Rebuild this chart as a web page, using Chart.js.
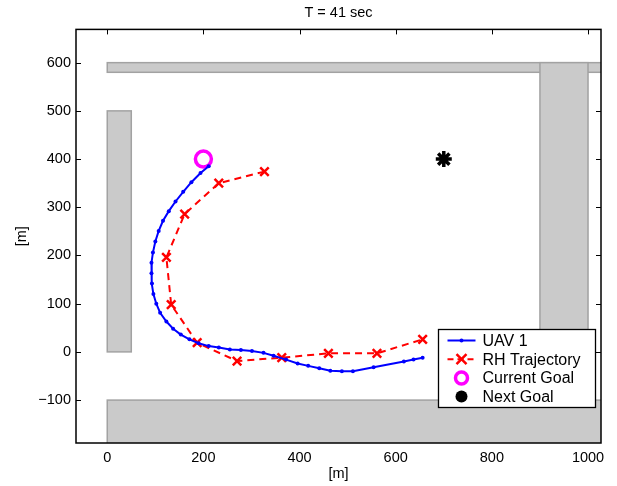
<!DOCTYPE html>
<html>
<head>
<meta charset="UTF-8">
<title>T = 41 sec</title>
<script src="https://cdn.jsdelivr.net/npm/chart.js"></script>
<style>
  body { margin: 0; padding: 0; background: #fff; }
  #wrap { width: 617px; height: 486px; }
</style>
</head>
<body>
<div id="wrap"><canvas id="c" width="617" height="486"></canvas></div>
<script>
// UAV 1 path (flown so far)
const uavX = [211, 194, 175, 158, 142, 128, 116, 107, 100, 95, 92, 92, 93, 96, 102, 110, 123, 137, 153, 171, 190, 211, 232, 255, 278, 301, 325, 346, 372, 396, 418, 441, 464, 488, 511, 554, 617, 637, 656];
const uavY = [385, 371, 352, 332, 312, 292, 272, 251, 229, 206, 185, 163, 142, 120, 100, 81, 63, 48, 36, 26, 18, 12, 9, 5, 4, 2, -2, -8, -16, -24, -29, -34, -39, -40, -40, -32, -20, -16, -12];

// receding horizon plan
const rhX = [327, 232, 161, 123, 133, 187, 270, 363, 460, 561, 656];
const rhY = [374, 350, 286, 196, 98, 19, -19, -12, -3, -3, 26];

const currentGoal = [200, 400];
const nextGoal = [700, 400];

// obstacles: x0, x1, y0, y1
const obsX0 = [0, 0, 900, 0];
const obsX1 = [1100, 50, 1000, 1100];
const obsY0 = [580, 0, 0, -300];
const obsY1 = [600, 500, 600, -100];

const xTicks = [0, 200, 400, 600, 800, 1000];
const yTicks = [-100, 0, 100, 200, 300, 400, 500, 600];

const FONT = "'Liberation Sans', Arial, Helvetica, sans-serif";

// inward ticks on all four sides, then the grey obstacles
const obstaclePlugin = {
  id: 'obstacles',
  beforeDatasetsDraw(chart) {
    const {ctx, chartArea: a, scales: {x, y}} = chart;
    ctx.save();
    ctx.strokeStyle = '#000';
    ctx.lineWidth = 1;
    xTicks.forEach(v => {
      const px = Math.round(x.getPixelForValue(v)) + 0.5;
      ctx.beginPath();
      ctx.moveTo(px, a.top); ctx.lineTo(px, a.top + 5);
      ctx.moveTo(px, a.bottom); ctx.lineTo(px, a.bottom - 5);
      ctx.stroke();
    });
    yTicks.forEach(v => {
      const py = Math.round(y.getPixelForValue(v)) + 0.5;
      ctx.beginPath();
      ctx.moveTo(a.left, py); ctx.lineTo(a.left + 5, py);
      ctx.moveTo(a.right, py); ctx.lineTo(a.right - 5, py);
      ctx.stroke();
    });

    ctx.beginPath();
    ctx.rect(a.left, a.top, a.right - a.left, a.bottom - a.top);
    ctx.clip();
    for (let i = 0; i < obsX0.length; i++) {
      const l = x.getPixelForValue(obsX0[i]);
      const r = x.getPixelForValue(obsX1[i]);
      const t = y.getPixelForValue(obsY1[i]);
      const b = y.getPixelForValue(obsY0[i]);
      ctx.fillStyle = '#cacaca';
      ctx.strokeStyle = '#a2a2a2';
      ctx.lineWidth = 1.5;
      ctx.fillRect(l, t, r - l, b - t);
      ctx.strokeRect(l, t, r - l, b - t);
    }
    ctx.restore();
  },
  afterDatasetsDraw(chart) {
    const {ctx, chartArea: a} = chart;
    ctx.save();
    ctx.strokeStyle = '#000';
    ctx.lineWidth = 1.5;
    ctx.strokeRect(a.left, a.top, a.right - a.left, a.bottom - a.top);
    ctx.restore();
  }
};

// MATLAB style legend box in the lower right corner
const legendPlugin = {
  id: 'boxLegend',
  afterDraw(chart) {
    const {ctx} = chart;
    const bx = 438.5, by = 329.5, bw = 157, bh = 78;
    const rowH = 18.7;
    ctx.save();
    ctx.fillStyle = '#fff';
    ctx.fillRect(bx, by, bw, bh);
    ctx.strokeStyle = '#000';
    ctx.lineWidth = 1.3;
    ctx.strokeRect(bx, by, bw, bh);

    const sx0 = bx + 9, sx1 = bx + 37, mx = bx + 23;
    const rows = chart.data.datasets.map((d, i) => ({d, cy: by + 11 + i * rowH}));
    rows.forEach(({d, cy}, i) => {
      if (i === 0) {
        ctx.strokeStyle = d.borderColor; ctx.lineWidth = 2;
        ctx.beginPath(); ctx.moveTo(sx0, cy); ctx.lineTo(sx1, cy); ctx.stroke();
        ctx.fillStyle = d.borderColor;
        ctx.beginPath(); ctx.arc(mx, cy, 2, 0, Math.PI * 2); ctx.fill();
      } else if (i === 1) {
        ctx.strokeStyle = d.borderColor; ctx.lineWidth = 2;
        ctx.setLineDash([6, 4]);
        ctx.beginPath(); ctx.moveTo(sx0, cy); ctx.lineTo(sx1, cy); ctx.stroke();
        ctx.setLineDash([]);
        ctx.lineWidth = 2.5;
        ctx.beginPath();
        ctx.moveTo(mx - 5, cy - 5); ctx.lineTo(mx + 5, cy + 5);
        ctx.moveTo(mx - 5, cy + 5); ctx.lineTo(mx + 5, cy - 5);
        ctx.stroke();
      } else if (i === 2) {
        ctx.strokeStyle = d.pointBorderColor; ctx.lineWidth = 3.5;
        ctx.beginPath(); ctx.arc(mx, cy, 6, 0, Math.PI * 2); ctx.stroke();
      } else {
        ctx.fillStyle = '#000';
        ctx.beginPath(); ctx.arc(mx, cy, 6, 0, Math.PI * 2); ctx.fill();
      }
      ctx.fillStyle = '#000';
      ctx.font = '16px ' + FONT;
      ctx.textBaseline = 'middle';
      ctx.textAlign = 'left';
      ctx.fillText(d.label, bx + 44, cy + 1);
    });
    ctx.restore();
  }
};

const toPts = (xs, ys) => xs.map((v, i) => ({x: v, y: ys[i]}));
const tickText = v => (v < 0 ? '\u2212' + Math.abs(v) : String(v));

new Chart(document.getElementById('c'), {
  type: 'scatter',
  data: {
    datasets: [
      {
        label: 'UAV 1',
        data: toPts(uavX, uavY),
        showLine: true,
        borderColor: '#0000ff',
        backgroundColor: '#0000ff',
        borderWidth: 2,
        pointRadius: 2,
        pointBorderWidth: 0,
        pointBackgroundColor: '#0000ff'
      },
      {
        label: 'RH Trajectory',
        data: toPts(rhX, rhY),
        showLine: true,
        borderColor: '#ff0000',
        backgroundColor: '#ff0000',
        borderWidth: 2,
        borderDash: [7, 5],
        pointStyle: 'crossRot',
        pointRadius: 6,
        pointBorderWidth: 2.5,
        pointBorderColor: '#ff0000'
      },
      {
        label: 'Current Goal',
        data: [{x: currentGoal[0], y: currentGoal[1]}],
        pointStyle: 'circle',
        pointRadius: 8,
        pointBorderWidth: 3.5,
        pointBorderColor: '#ff00ff',
        pointBackgroundColor: 'rgba(0,0,0,0)'
      },
      {
        label: 'Next Goal',
        data: [{x: nextGoal[0], y: nextGoal[1]}],
        pointStyle: 'star',
        pointRadius: 8,
        pointBorderWidth: 3.5,
        pointBorderColor: '#000',
        pointBackgroundColor: '#000'
      }
    ]
  },
  options: {
    responsive: false,
    animation: false,
    layout: { padding: { top: 0, right: 16, bottom: 0, left: 0 } },
    plugins: {
      legend: { display: false },
      tooltip: { enabled: false },
      title: {
        display: true,
        text: 'T = 41 sec',
        fullSize: false,
        color: '#000',
        font: { family: FONT, size: 14.5, weight: 'normal' },
        padding: { top: 4, bottom: 8 }
      }
    },
    scales: {
      x: {
        type: 'linear',
        min: -65,
        max: 1027,
        afterBuildTicks: s => { s.ticks = xTicks.map(v => ({value: v})); },
        afterFit: s => { s.height = 43; },
        grid: { display: false, drawTicks: false },
        border: { display: false },
        ticks: { color: '#000', padding: 6, maxRotation: 0, font: { family: FONT, size: 14.5 }, callback: tickText },
        title: { display: true, text: '[m]', color: '#000', padding: { top: 0, bottom: 3 }, font: { family: FONT, size: 14.5 } }
      },
      y: {
        type: 'linear',
        min: -189,
        max: 669,
        afterBuildTicks: s => { s.ticks = yTicks.map(v => ({value: v})); },
        afterFit: s => { s.width = 76; },
        grid: { display: false, drawTicks: false },
        border: { display: false },
        ticks: { color: '#000', padding: 5, font: { family: FONT, size: 14.5 }, callback: tickText },
        title: { display: true, text: '[m]', color: '#000', padding: { top: 13, bottom: 0 }, font: { family: FONT, size: 14.5 } }
      }
    }
  },
  plugins: [obstaclePlugin, legendPlugin]
});
</script>
</body>
</html>
